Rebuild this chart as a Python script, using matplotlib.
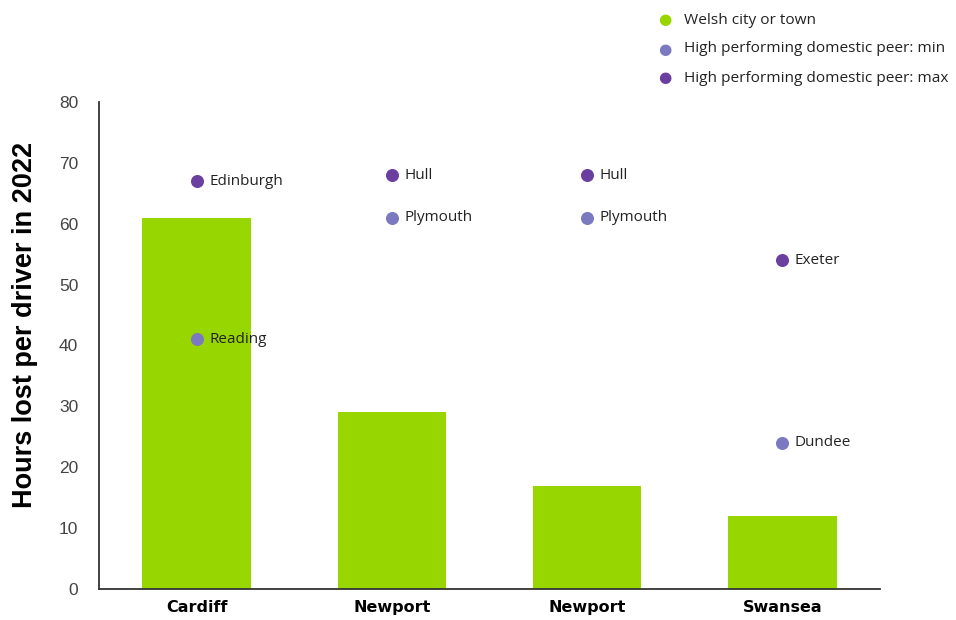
import matplotlib.pyplot as plt

# Hours lost per driver in 2022
cities = ["Cardiff", "Newport", "Newport", "Swansea"]
hours_welsh = [61, 29, 17, 12]

peer_min_names = ["Reading", "Plymouth", "Plymouth", "Dundee"]
peer_min_hours = [41, 61, 61, 24]

peer_max_names = ["Edinburgh", "Hull", "Hull", "Exeter"]
peer_max_hours = [67, 68, 68, 54]

green = "#98d600"
purple_min = "#7b79bf"
purple_max = "#6b3fa0"
label_font = "Open Sans"

fig = plt.figure(figsize=(9.56, 6.2), dpi=100)
ax = fig.add_axes([0.1036, 0.05, 0.817, 0.7855])

x = list(range(len(cities)))
ax.bar(x, hours_welsh, width=0.555, color=green, zorder=2)
ax.scatter(x, peer_max_hours, s=70, color=purple_max, zorder=3)
ax.scatter(x, peer_min_hours, s=70, color=purple_min, zorder=3)

for xi, (name, val) in enumerate(zip(peer_max_names, peer_max_hours)):
    ax.annotate(name, (xi, val), xytext=(9, 0), textcoords="offset points",
                va="center", ha="left", fontsize=11, family=label_font, color="#222222")
for xi, (name, val) in enumerate(zip(peer_min_names, peer_min_hours)):
    ax.annotate(name, (xi, val), xytext=(9, 0), textcoords="offset points",
                va="center", ha="left", fontsize=11, family=label_font, color="#222222")

ax.set_xlim(-0.5, 3.5)
ax.set_ylim(0, 80)
ax.set_yticks(range(0, 81, 10))
ax.set_xticks(x)
ax.set_xticklabels(cities, fontsize=11.5, fontweight="bold", family="Liberation Sans Narrow")
ax.tick_params(axis="y", length=0, pad=15, labelsize=12.5, labelcolor="#444444")
ax.tick_params(axis="x", length=0, pad=8)
for lab in ax.get_yticklabels():
    lab.set_family("Liberation Sans")

# y-axis title placed a little above the axes centre
fig.text(0.026, 0.476, "Hours lost per driver in 2022", rotation=90, fontsize=19.5,
         fontweight="bold", family="Liberation Sans", ha="center", va="center")

for side in ["top", "right"]:
    ax.spines[side].set_visible(False)
for side in ["left", "bottom"]:
    ax.spines[side].set_color("#333333")
    ax.spines[side].set_linewidth(1.3)

# legend drawn by hand in the top-right corner
legend_items = [("Welsh city or town", green),
                ("High performing domestic peer: min", purple_min),
                ("High performing domestic peer: max", purple_max)]
for i, (text, col) in enumerate(legend_items):
    y = 1 - (20 + 29 * i) / 620
    fig.text(665 / 956, y, "\u25cf", color=col, fontsize=11, ha="center", va="center",
             family="DejaVu Sans")
    fig.text(684 / 956, y, text, color="#222222", fontsize=11.1, ha="left", va="center",
             family=label_font)

fig.savefig("out.png", dpi=100)
